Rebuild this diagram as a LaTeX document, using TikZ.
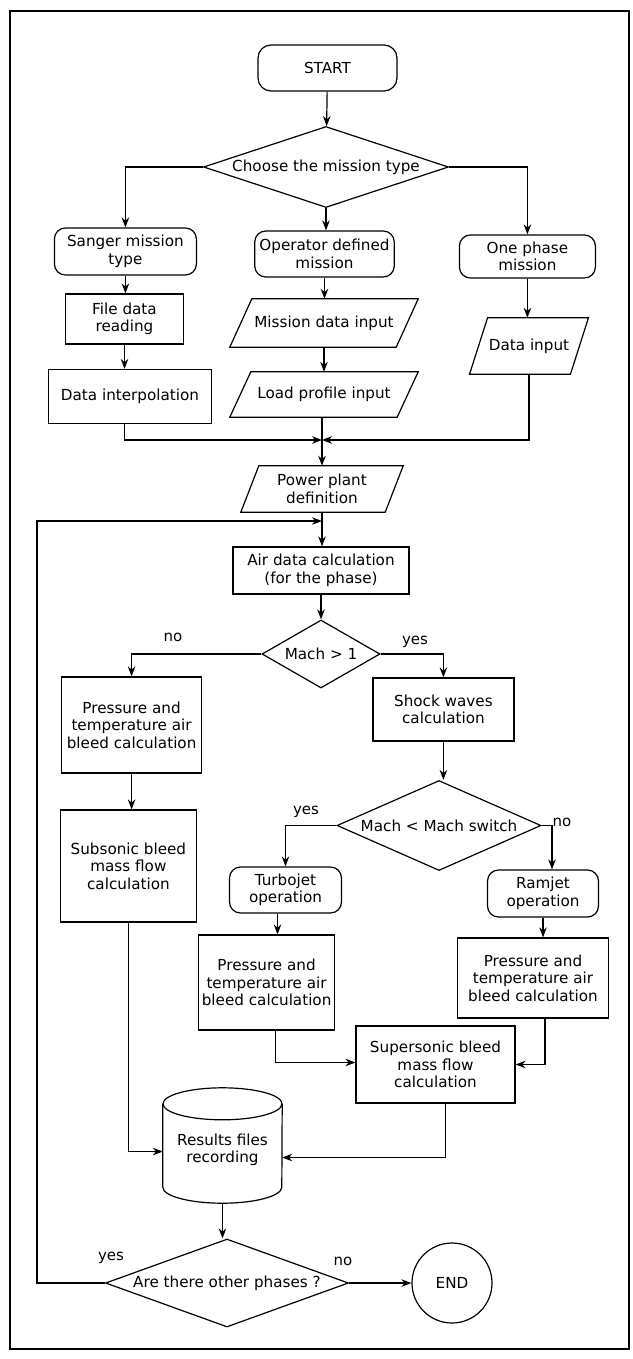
\documentclass[tikz,border=0pt]{standalone}
\usepackage{fontspec}
\setmainfont{DejaVu Sans}
\usetikzlibrary{shapes.geometric,arrows.meta}
\begin{document}
\begin{tikzpicture}[x=1pt,y=-1pt,
  every node/.style={font=\fontsize{15.2}{17.5}\selectfont, inner sep=0pt, align=center},
  line/.style={line width=1.2pt, black},
  arr/.style={line, -{Stealth[length=10pt,width=7.5pt]}},
  proc/.style={draw, line width=1.2pt, rectangle},
  term/.style={draw, line width=1.2pt, rectangle, rounded corners=11pt},
  io/.style={rectangle},
  dec/.style={draw, line width=1.2pt, diamond},
  lbl/.style={font=\fontsize{15}{17}\selectfont}
]
\useasboundingbox (0,0) rectangle (632,1359);
\draw[line width=2pt] (10,11) rectangle (629,1349);

% nodes
\node[term, minimum width=139pt, minimum height=46pt, rounded corners=13pt] (start) at (327.5,68) {START};
\node[dec, aspect=3.02, minimum width=245pt, minimum height=81pt] (choose) at (326,167) {Choose the mission type};
\node[term, minimum width=142pt, minimum height=47pt] (sanger) at (125.4,251.5) {Sanger mission\\type};
\node[term, minimum width=139.5pt, minimum height=46pt] (oper) at (324.5,254) {Operator defined\\mission};
\node[term, minimum width=136pt, minimum height=43pt] (one) at (527.4,256.5) {One phase\\mission};
\node[proc, minimum width=118pt, minimum height=50pt] (file) at (124.5,319) {File data\\reading};
\node[proc, minimum width=163pt, minimum height=54pt] (interp) at (130,396.5) {Data interpolation};
\node[io, minimum width=188pt, minimum height=48pt] (mis) at (324,323) {Mission data input};
\node[io, minimum width=188pt, minimum height=45pt] (load) at (324,394.5) {Load profile input};
\node[io, minimum width=118.5pt, minimum height=56pt] (din) at (529,346) {Data input};
\coordinate (j) at (322,440);
\node[io, minimum width=162pt, minimum height=46pt] (power) at (322,489) {Power plant\\definition};
\coordinate (lp) at (322,521);
\node[proc, minimum width=176pt, minimum height=47pt] (air) at (321,570.5) {Air data calculation\\(for the phase)};
\node[dec, aspect=1.74, minimum width=118pt, minimum height=68pt] (mach) at (321,654) {Mach > 1};
\node[proc, minimum width=140pt, minimum height=96pt] (p1) at (131.6,725) {Pressure and\\temperature air\\bleed calculation};
\node[proc, minimum width=136pt, minimum height=112pt] (sub) at (128.4,866) {Subsonic bleed\\mass flow\\calculation};
\node[proc, minimum width=141pt, minimum height=63pt] (shock) at (443.4,709.5) {Shock waves\\calculation};
\node[dec, aspect=2.27, minimum width=204pt, minimum height=90pt] (sw) at (439,825.5) {Mach < Mach switch};
\node[term, minimum width=112pt, minimum height=46pt] (turbo) at (285.5,890) {Turbojet\\operation};
\node[term, minimum width=111pt, minimum height=47pt] (ram) at (543,893.5) {Ramjet\\operation};
\node[proc, minimum width=136pt, minimum height=95pt] (p2) at (266.6,982.5) {Pressure and\\temperature air\\bleed calculation};
\node[proc, minimum width=151pt, minimum height=80pt] (p3) at (533,978) {Pressure and\\temperature air\\bleed calculation};
\node[proc, minimum width=159pt, minimum height=77pt] (sup) at (435.5,1064.5) {Supersonic bleed\\mass flow\\calculation};
\node[minimum width=119pt, minimum height=115pt] (res) at (222.5,1145.5) {};
\node (restext) at (222.5,1150) {Results files\\recording};
\node[dec, aspect=2.76, minimum width=243pt, minimum height=88pt] (ph) at (227,1283) {Are there other phases ?};
\node[circle, draw, line width=1.2pt, minimum size=80pt] (endc) at (452,1283) {END};

% parallelograms
\draw[line] ([xshift=22pt]mis.north west) -- (mis.north east) -- ([xshift=-22pt]mis.south east) -- (mis.south west) -- cycle;
\draw[line] ([xshift=21pt]load.north west) -- (load.north east) -- ([xshift=-21pt]load.south east) -- (load.south west) -- cycle;
\draw[line] ([xshift=18pt]din.north west) -- (din.north east) -- ([xshift=-18pt]din.south east) -- (din.south west) -- cycle;
\draw[line] ([xshift=18pt]power.north west) -- (power.north east) -- ([xshift=-18pt]power.south east) -- (power.south west) -- cycle;

% cylinder
\draw[line] ([yshift=-16pt]res.north west) -- ([yshift=16pt]res.south west)
  arc[start angle=180, end angle=360, x radius=59.5pt, y radius=16pt]
  -- ([yshift=-16pt]res.north east);
\draw[line] ([yshift=-16pt]res.north) ellipse [x radius=59.5pt, y radius=16pt];

% connectors
\draw[arr] (start) -- (choose);
\draw[arr] (choose.west) -| (sanger.north);
\draw[arr] (choose.south) -- (choose.south |- oper.north);
\draw[arr] (choose.east) -| (one.north);
\draw[arr] (sanger.south) -- (sanger.south |- file.north);
\draw[arr] (file.south) -- (file.south |- interp.north);
\draw[arr] (oper.south) -- (oper.south |- mis.north);
\draw[arr] (mis.south) -- (load.north);
\draw[arr] (one.south) -- (one.south |- din.north);
\draw[arr] (file.south |- interp.south) |- (j);
\draw[arr] (din.south) |- (j);
\draw[line] (load.south -| j) -- (j);
\draw[arr] (j) -- (power.north -| j);
\draw[line] (power.south -| lp) -- (lp);
\draw[arr] (lp) -- (lp |- air.north);
\draw[arr] (air.south) -- (mach.north);
\draw[arr] (mach.west) -| (p1.north);
\draw[arr] (mach.east) -| (shock.north);
\draw[arr] (p1.south) -- (p1.south |- sub.north);
\draw[arr] (shock.south) -- (shock.south |- sw.north);
\draw[arr] (sw.west) -| (turbo.north);
\draw[arr] (sw.east) -| ([xshift=9pt]ram.north);
\draw[arr] ([xshift=-8pt]turbo.south) -- ([xshift=-8pt]turbo.south |- p2.north);
\draw[arr] (ram.south) -- (ram.south |- p3.north);
\draw[arr] ([xshift=9pt]p2.south) |- ([yshift=2pt]sup.west);
\draw[arr] ([xshift=12pt]p3.south) |- (sup.east);
\draw[arr] (sub.south) |- ([yshift=-6pt]res.west);
\draw[arr] ([xshift=10pt]sup.south) |- ([yshift=-12pt]res.east);
\draw[arr] (res.south) -- (res.south |- ph.north);
\draw[arr] (ph.east) -- (endc.west);
\coordinate (lx) at (37,1283);
\draw[arr] (ph.west) -- (lx) |- (lp);

% branch labels
\node[lbl] (l1) at (173,637) {no};
\node[lbl] (l2) at (415,642) {yes};
\node[lbl] (l3) at (306,812) {yes};
\node[lbl] (l4) at (562,822) {no};
\node[lbl] (l5) at (111,1258) {yes};
\node[lbl] (l6) at (343,1261) {no};
\end{tikzpicture}
\end{document}
